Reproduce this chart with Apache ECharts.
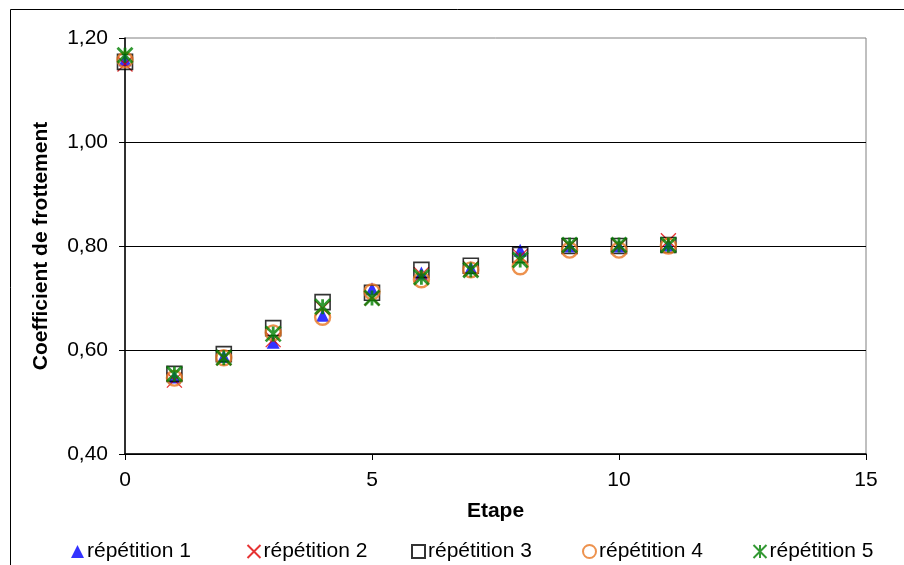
<!DOCTYPE html>
<html>
<head>
<meta charset="utf-8">
<script src="https://cdn.jsdelivr.net/npm/echarts@6/dist/echarts.min.js"></script>
<style>html,body{margin:0;padding:0;background:#fff}#c{width:904px;height:565px}</style>
</head>
<body>
<div id="c"></div>
<script>
var etapes = [0,1,2,3,4,5,6,7,8,9,10,11];
var rep1 = [1.158,0.548,0.588,0.615,0.667,0.718,0.748,0.758,0.792,0.800,0.800,0.802];
var rep2 = [1.150,0.542,0.585,0.620,0.680,0.700,0.745,0.756,0.780,0.800,0.800,0.810];
var rep3 = [1.154,0.554,0.592,0.642,0.692,0.710,0.754,0.762,0.783,0.800,0.800,0.802];
var rep4 = [1.158,0.546,0.585,0.633,0.663,0.712,0.735,0.754,0.760,0.792,0.792,0.800];
var rep5 = [1.167,0.554,0.585,0.631,0.683,0.700,0.740,0.754,0.773,0.802,0.802,0.802];
var names = ['répétition 1','répétition 2','répétition 3','répétition 4','répétition 5'];
var yTicks = [0.4,0.6,0.8,1.0,1.2];
var xTicks = [0,5,10,15];

function pts(arr){ return etapes.map(function(e,i){ return [e, arr[i]]; }); }
var FONT = 'Liberation Sans, Arial, sans-serif';
var FS = 21;
var chart = echarts.init(document.getElementById('c'), null, {renderer:'canvas'});

var styles = [
  {symbol:'triangle', size:13, item:{color:'#0000FF'}},
  {symbol:'path://M0,0L10,10M10,0L0,10', size:15, item:{color:'none', borderColor:'#E00000', borderWidth:1.3}},
  {symbol:'rect', size:15, item:{color:'rgba(255,255,255,0)', borderColor:'#000000', borderWidth:1.6}},
  {symbol:'circle', size:15, item:{color:'rgba(255,255,255,0)', borderColor:'#E87722', borderWidth:2.4}},
  {symbol:'path://M0,0L10,10M10,0L0,10M5,0L5,10', size:15, item:{color:'none', borderColor:'#008000', borderWidth:2.8}}
];
var data = [rep1,rep2,rep3,rep4,rep5];
var legendLeft = [66, 240, 406, 577, 746];

var series = names.map(function(n,i){
  return {
    name:n, type:'scatter', data:pts(data[i]),
    symbol:styles[i].symbol, symbolSize:styles[i].size,
    itemStyle:styles[i].item, z: 2+i,
    emphasis:{disabled:true}
  };
});

var legends = names.map(function(n,i){
  return {
    data:[n], left:legendLeft[i], top:536, itemWidth:13, itemHeight:13, itemGap:4,
    textStyle:{fontFamily:FONT, fontSize:FS, color:'#000', padding:[0,0,0,-2]},
    selectedMode:false
  };
});

chart.setOption({
  animation:false,
  backgroundColor:'#fff',
  grid:{left:125, right:38, top:38, bottom:111, show:true, borderColor:'#808080', borderWidth:1, backgroundColor:'#fff'},
  legend: legends,
  xAxis:{
    type:'value', min:xTicks[0], max:xTicks[xTicks.length-1], interval:5,
    name:'Etape', nameLocation:'middle', nameGap:47,
    nameTextStyle:{fontFamily:FONT, fontSize:FS, fontWeight:'bold', color:'#000'},
    axisLine:{lineStyle:{color:'#000', width:1.5}},
    axisTick:{show:true, inside:false, length:6, lineStyle:{color:'#000'}},
    axisLabel:{fontFamily:FONT, fontSize:FS, color:'#000', margin:16},
    splitLine:{show:false}
  },
  yAxis:{
    type:'value', min:yTicks[0], max:yTicks[yTicks.length-1], interval:0.2,
    name:'Coefficient de frottement', nameLocation:'middle', nameGap:73,
    nameTextStyle:{fontFamily:FONT, fontSize:FS, fontWeight:'bold', color:'#000'},
    axisLine:{show:true, lineStyle:{color:'#000', width:1.5}},
    axisTick:{show:true, inside:false, length:6, lineStyle:{color:'#000'}},
    axisLabel:{fontFamily:FONT, fontSize:FS, color:'#000', margin:17,
      formatter:function(v){ return v.toFixed(2).replace('.', ','); }},
    splitLine:{show:true, showMaxLine:false, lineStyle:{color:'#000', width:1.2}}
  },
  graphic:[{type:'rect', silent:true, z:100,
    shape:{x:10.5, y:9.5, width:1000, height:1000},
    style:{fill:'none', stroke:'#000', lineWidth:1}}],
  series: series
});
</script>
</body>
</html>
